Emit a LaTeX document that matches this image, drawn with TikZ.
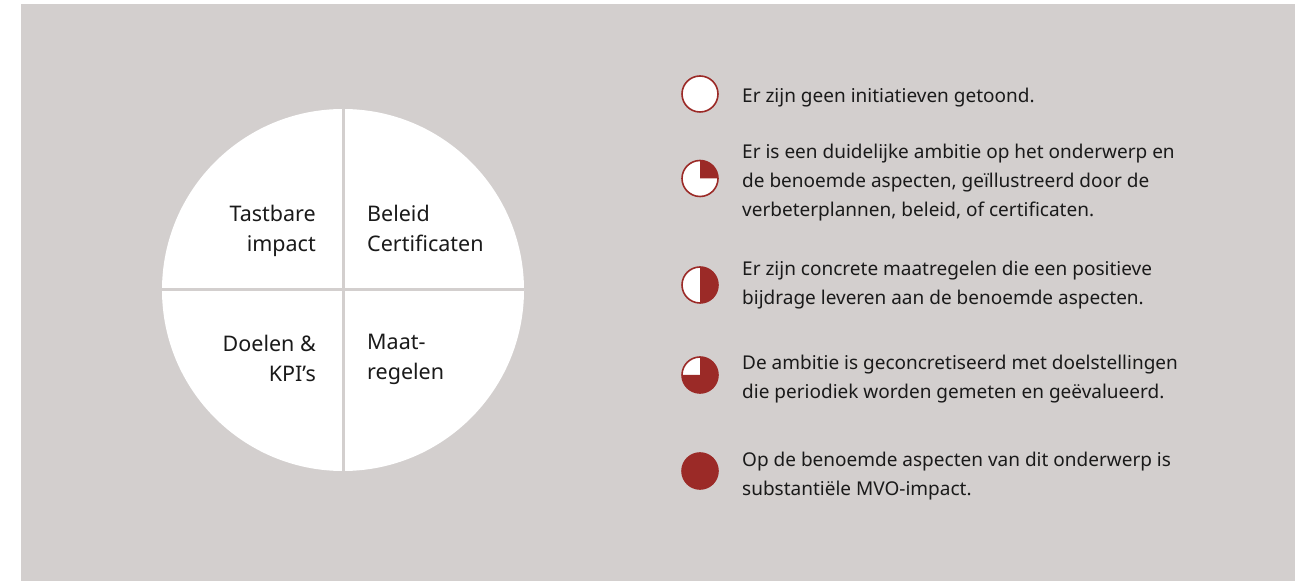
\documentclass[tikz,border=0pt]{standalone}
\usepackage{fontspec}
\setmainfont{Noto Sans}
\definecolor{bggrey}{HTML}{D3CFCE}
\definecolor{divgrey}{HTML}{D3CFCE}
\definecolor{mvored}{HTML}{9B2A27}
\definecolor{txt}{HTML}{1A1A1A}
\tikzset{
  quadtext/.style={font=\fontsize{21.5}{30}\selectfont, text=txt, inner sep=0pt},
  legtext/.style={font=\fontsize{19}{29}\selectfont, text=txt, inner sep=0pt, anchor=west, align=left},
  icon/.style={circle, draw=mvored, line width=1.6pt, minimum size=36pt, inner sep=0pt},
}
\begin{document}
\begin{tikzpicture}[x=1pt,y=1pt]
\useasboundingbox (0,0) rectangle (1306,581);
\fill[bggrey] (21,0) rectangle (1295,577);
% main circle
\node[circle, fill=white, minimum size=362pt, inner sep=0pt] (wheel) at (343,291) {};
\draw[divgrey, line width=3pt] (wheel.north) -- (wheel.south);
\draw[divgrey, line width=3pt] (wheel.west) -- (wheel.east);
\node[quadtext, anchor=east, align=right] (q1) at (316,350) {Tastbare\\impact};
\node[quadtext, anchor=west, align=left] (q2) at (367,353) {Beleid\\Certificaten};
\node[quadtext, anchor=east, align=right] (q3) at (316,222.5) {Doelen \&\\KPI’s};
\node[quadtext, anchor=west, align=left] (q4) at (367,221.5) {Maat-\\regelen};
% legend icons
\node[icon, fill=white] (i1) at (700,487) {};
\fill[white] (700,402.5) circle[radius=18];
\fill[mvored] (700,402.5) -- ++(0,18) arc[start angle=90, end angle=0, radius=18] -- cycle;
\node[icon] (i2) at (700,402.5) {};
\fill[white] (700,296) circle[radius=18];
\fill[mvored] (700,296) -- ++(0,18) arc[start angle=90, end angle=-90, radius=18] -- cycle;
\node[icon] (i3) at (700,296) {};
\fill[white] (700,206) circle[radius=18];
\fill[mvored] (700,206) -- ++(0,18) arc[start angle=90, end angle=-180, radius=18] -- cycle;
\node[icon] (i4) at (700,206) {};
\node[icon, fill=mvored] (i5) at (700,110) {};
% legend texts
\node[legtext] (t1) at (742,483.5) {Er zijn geen initiatieven getoond.};
\node[legtext] (t2) at (742,398) {Er is een duidelijke ambitie op het onderwerp en\\de benoemde aspecten, geïllustreerd door de\\verbeterplannen, beleid, of certificaten.};
\node[legtext] (t3) at (742,295.5) {Er zijn concrete maatregelen die een positieve\\bijdrage leveren aan de benoemde aspecten.};
\node[legtext] (t4) at (742,201.5) {De ambitie is geconcretiseerd met doelstellingen\\die periodiek worden gemeten en geëvalueerd.};
\node[legtext] (t5) at (742,104.5) {Op de benoemde aspecten van dit onderwerp is\\substantiële MVO-impact.};
\end{tikzpicture}
\end{document}
